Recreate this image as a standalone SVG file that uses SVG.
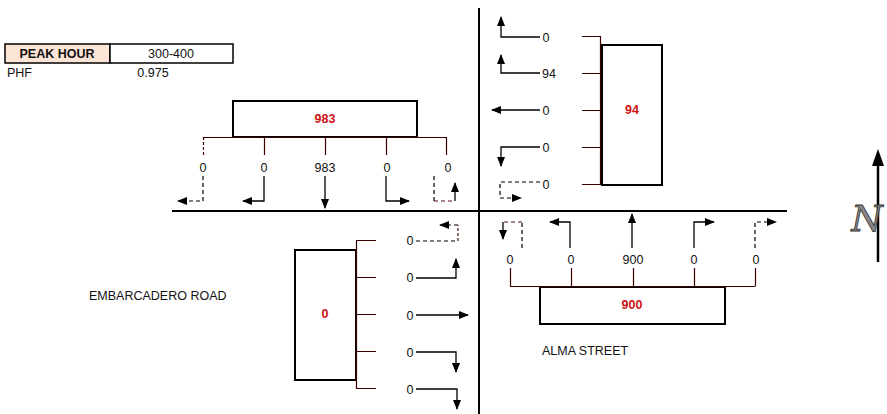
<svg xmlns="http://www.w3.org/2000/svg" width="887" height="414" viewBox="0 0 887 414">
<defs>
<marker id="ah" markerWidth="10" markerHeight="8" refX="9" refY="4" orient="auto" markerUnits="userSpaceOnUse">
<path d="M0,0 L10,4 L0,8 Z" fill="#000"/>
</marker>
<style>
text{font-family:"Liberation Sans",Arial,sans-serif;font-size:12.5px;fill:#111}
.c{text-anchor:middle}
.red{fill:#cc1111;font-weight:bold}
.box{fill:#fff;stroke:#000;stroke-width:2}
.br{fill:none;stroke:#3a0000;stroke-width:1.2}
.a{fill:none;stroke:#000;stroke-width:1.3;marker-end:url(#ah)}
.d{fill:none;stroke:#000;stroke-width:1.2;stroke-dasharray:4,3;marker-end:url(#ah)}
.ax{stroke:#000;stroke-width:2}
</style>
</defs>
<rect width="887" height="414" fill="#fff"/>

<g id="table">
<rect x="5" y="44" width="105" height="19" fill="#fce4d6" stroke="#000" stroke-width="1.5"/>
<rect x="110" y="44" width="123" height="19" fill="#fff" stroke="#000" stroke-width="1.5"/>
<text x="57" y="58" class="c" style="font-weight:bold">PEAK HOUR</text>
<text x="171" y="58" class="c">300-400</text>
<text x="7" y="77">PHF</text>
<text x="153" y="77" class="c">0.975</text>
</g>

<g id="axes">
<line x1="172" y1="211" x2="787" y2="211" class="ax"/>
<line x1="479" y1="8" x2="479" y2="414" class="ax"/>
</g>

<g id="north-approach">
<rect x="233" y="101" width="184" height="36" class="box"/>
<text x="325" y="123" class="c red">983</text>
<path class="br" d="M203,137.5 H446.5 M264.5,137 V155 M325.5,137 V155 M386.5,137 V155 M446.5,137 V155"/>
<path class="br" d="M203.5,137 V155" stroke-dasharray="3,2"/>
<text x="203" y="172" class="c">0</text>
<text x="264" y="172" class="c">0</text>
<text x="325" y="172" class="c">983</text>
<text x="387" y="172" class="c">0</text>
<text x="448" y="172" class="c">0</text>
</g>

<g id="east-approach">
<rect x="602" y="45" width="60" height="140" class="box"/>
<text x="632" y="114" class="c red">94</text>
<path class="br" d="M600.5,36 V185 M582,36.5 H600 M582,73.5 H600 M582,110.5 H600 M582,147.5 H600 M582,184.5 H600"/>
<text x="546" y="42" class="c">0</text>
<text x="549" y="78" class="c">94</text>
<text x="546" y="115" class="c">0</text>
<text x="546" y="152" class="c">0</text>
<text x="546" y="189" class="c">0</text>
</g>

<g id="south-approach">
<rect x="540" y="287" width="185" height="37" class="box"/>
<text x="632" y="309" class="c red">900</text>
<path class="br" d="M510,286.5 H755.5 M510.5,286 V268 M571.5,286 V268 M633.5,286 V268 M694.5,286 V268 M755.5,286 V268"/>
<text x="510" y="264" class="c">0</text>
<text x="571" y="264" class="c">0</text>
<text x="633" y="264" class="c">900</text>
<text x="694" y="264" class="c">0</text>
<text x="756" y="264" class="c">0</text>
</g>

<g id="west-approach">
<rect x="295" y="250" width="61" height="130" class="box"/>
<text x="325" y="318" class="c red">0</text>
<path class="br" d="M356.5,240 V389 M356,240.5 H376 M356,277.5 H376 M356,314.5 H376 M356,351.5 H376 M356,388.5 H376"/>
<text x="410" y="245" class="c">0</text>
<text x="410" y="282" class="c">0</text>
<text x="410" y="320" class="c">0</text>
<text x="410" y="357" class="c">0</text>
<text x="410" y="394" class="c">0</text>
</g>

<g id="connectors">
<!-- southbound -->
<path class="d" d="M203,176 V201 H178"/>
<path class="a" d="M264,176 V201 H243"/>
<path class="a" d="M325,176 V208"/>
<path class="a" d="M386,176 V201 H409"/>
<path d="M434,176 V201" fill="none" stroke="#000" stroke-width="1.2" stroke-dasharray="4,3"/>
<path d="M434,201 H455" fill="none" stroke="#5a1010" stroke-width="1.2" stroke-dasharray="4,3"/>
<path class="a" d="M455,201 V183"/>
<!-- westbound -->
<path class="a" d="M540,37 H501 V17"/>
<path class="a" d="M540,73 H501 V55"/>
<path class="a" d="M540,110 H492"/>
<path class="a" d="M540,147 H501 V166"/>
<path class="d" d="M540,182 H500 V198 H521"/>
<!-- northbound -->
<path d="M522,248 V222" fill="none" stroke="#000" stroke-width="1.2" stroke-dasharray="4,3"/>
<path d="M522,222 H503" fill="none" stroke="#5a1010" stroke-width="1.2" stroke-dasharray="4,3"/>
<path class="a" d="M503,222 V239"/>
<path class="a" d="M570,248 V222 H550"/>
<path class="a" d="M632,248 V214"/>
<path class="a" d="M694,248 V222 H714"/>
<path class="d" d="M755,248 V222 H776"/>
<!-- eastbound -->
<path d="M416,241 H458" fill="none" stroke="#000" stroke-width="1.2" stroke-dasharray="4,3"/>
<path d="M458,241 V225" fill="none" stroke="#5a1010" stroke-width="1.2" stroke-dasharray="3,2"/>
<path class="d" d="M458,225 H440"/>
<path class="a" d="M416,278 H456 V259"/>
<path class="a" d="M416,315 H468"/>
<path class="a" d="M416,352 H456 V372"/>
<path class="a" d="M416,389 H457 V409"/>
</g>

<g id="labels">
<text x="89" y="300">EMBARCADERO ROAD</text>
<text x="542" y="355">ALMA STREET</text>
</g>

<g id="north-arrow">
<line x1="878" y1="262" x2="878" y2="162" stroke="#000" stroke-width="2.5"/>
<path d="M872,166 L878,149 L884,166 Z" fill="#000"/>
<text x="867" y="231" class="c" style="font-family:'DejaVu Serif',serif;font-style:italic;font-size:36px;fill:#888;stroke:#333;stroke-width:0.8">N</text>
</g>
</svg>
